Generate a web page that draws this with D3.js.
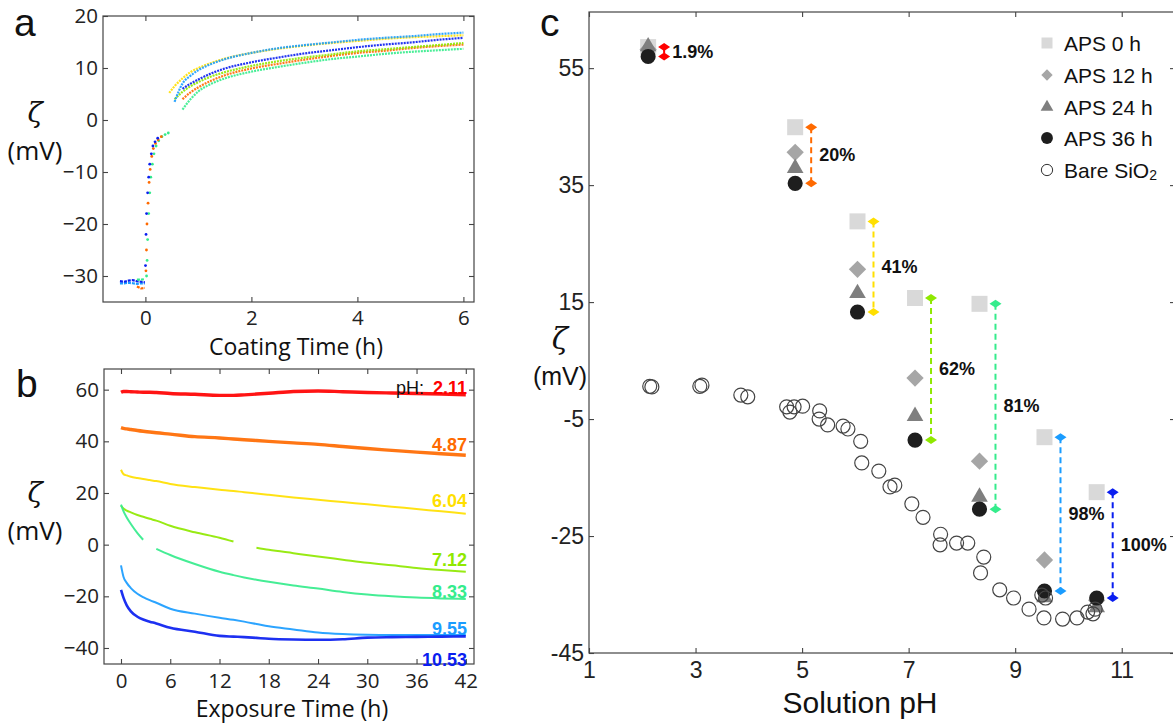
<!DOCTYPE html>
<html>
<head>
<meta charset="utf-8">
<script src="https://cdn.jsdelivr.net/npm/d3@7"></script>
<style>
  body { margin: 0; background: #fff; }
  svg { display: block; }
</style>
</head>
<body>
<svg id="fig" width="1173" height="726"></svg>
<script>

// ---- panel a : coating time (h) vs zeta (mV)
const coatTimes = [0.45, 0.55, 0.7, 0.85, 1, 1.25, 1.5, 2, 2.5, 3, 3.5, 4, 4.5, 5, 5.5, 6]
const coatYellow = [5.2, 6.5, 8.0, 9.2, 10.0, 11.0, 11.8, 12.9, 13.7, 14.3, 14.8, 15.2, 15.6, 15.9, 16.1, 16.3]
const coatCyan   = [null, 3.5, 7.0, 8.5, 9.6, 10.8, 11.7, 12.9, 13.8, 14.4, 14.9, 15.4, 15.8, 16.1, 16.5, 16.8]
const coatBlue   = [null, null, 6.0, 7.0, 7.8, 9.0, 9.9, 11.1, 12.0, 12.8, 13.4, 14.0, 14.5, 14.9, 15.4, 15.8]
const coatLime   = [null, 4.0, 5.4, 6.5, 7.3, 8.4, 9.2, 10.4, 11.3, 12.0, 12.6, 13.2, 13.6, 14.0, 14.4, 14.8]
const coatOrange = [null, null, 4.0, 5.3, 6.3, 7.6, 8.6, 9.9, 10.8, 11.6, 12.3, 12.9, 13.3, 13.8, 14.2, 14.5]
const coatGreen  = [null, null, 2.0, 4.0, 5.5, 7.0, 8.0, 9.3, 10.2, 11.0, 11.7, 12.2, 12.7, 13.1, 13.4, 13.7]

const preTimes  = [-0.48, -0.4, -0.32, -0.24, -0.16, -0.08, -0.01]
const preBlue   = [-31.0, -31.1, -30.9, -30.8, -31.0, -31.1, -31.2]
const preCyan   = [-31.4, -31.4, -31.3, -31.4, -31.5, -31.4, -31.4]
const preGreen  = [null, null, null, null, -30.7, -30.7, -30.6]
const preOrange = [null, null, null, null, -32.0, -32.4, -32.3]

const jumpTimes  = [0.01, 0.02, 0.03, 0.05, 0.07, 0.09, 0.12, 0.15, 0.19, 0.24, 0.3, 0.36, 0.42]
const jumpBlue   = [-28, -22, -18, -14, -11, -8.5, -6.5, -5, -4.2, -3.5, null, null, null]
const jumpOrange = [-29, -25, -20, -16, -12, -9.5, -7, -5.5, -4.5, -3.8, -3.2, null, null]
const jumpGreen  = [-30, -27, -23, -18, -14, -11, -8.5, -6.5, -5, -4, -3.2, -2.8, -2.5]

// ---- panel b : exposure time (h) vs zeta (mV)
const expTimes = [0, 0.3, 0.7, 1.2, 2, 2.7, 3.5, 4.3, 6, 9, 12, 13.7, 15, 16.5, 18, 21, 24, 27, 30, 33, 36, 39, 42]
const exp211  = [59, 59.3, 59.3, 59.2, 59.1, 59, 59, 58.9, 58.5, 58.2, 57.8, 57.8, 58, 58.3, 58.6, 59.3, 59.5, 59.2, 58.9, 58.7, 58.5, 58.3, 58]
const exp487  = [45.3, 45, 44.8, 44.6, 44.2, 43.9, 43.6, 43.3, 42.8, 41.8, 41.3, 40.9, 40.6, 40.3, 40, 39.4, 38.8, 38, 37.2, 36.5, 35.8, 35.2, 34.6]
const exp604  = [29, 27.3, 26.8, 26.3, 25.8, 25.4, 25, 24.6, 23.5, 22.3, 21.3, 20.8, 20.3, 19.8, 19.3, 18.3, 17.4, 16.5, 15.6, 14.7, 13.8, 12.9, 12]
const exp712  = [15, 14, 13.2, 12.5, 11.5, 10.8, 10, 9.3, 7.3, 4.8, 2.7, 1.2, null, -1.2, -2, -3.3, -4.6, -5.8, -7, -8, -9, -9.8, -10.5]
const exp833  = [15.5, 13, 10.5, 8, 4.5, 1.9, null, -1.6, -4, -7.5, -10.5, -11.8, -12.7, -13.6, -14.4, -15.8, -17, -18.3, -19.3, -20, -20.5, -20.8, -21]
const exp955  = [-8, -12.4, -14.8, -16.8, -19, -20.3, -21.5, -22.5, -24.8, -26.7, -28.3, -29.1, -29.8, -30.7, -31.6, -32.8, -34, -34.6, -34.9, -35, -35, -35, -35]
const exp1053 = [-17.5, -20.5, -23.5, -25.8, -27.9, -29, -29.8, -30.5, -32.2, -33.7, -35.3, -35.6, -35.8, -36.1, -36.4, -36.7, -36.8, -36.6, -36, -35.8, -35.7, -35.6, -35.5]

const phLabels = ["2.11", "4.87", "6.04", "7.12", "8.33", "9.55", "10.53"]
const phColors = ["#ff0000", "#ff6a00", "#ffdf00", "#8fe800", "#35ec8c", "#1a9cff", "#0a1ef0"]

// ---- panel c : zeta vs solution pH
const apsPh  = [2.11, 4.87, 6.04, 7.12, 8.33, 9.55, 10.53]
const aps0h  = [58.6, 44.9, 28.8, 15.7, 14.7, -8.1, -17.5]
const aps12h = [58.2, 40.6, 20.6, 2.0, -12.2, -29.1, -36.0]
const aps24h = [58.7, 37.9, 16.5, -4.5, -18.3, -35.5, -37.2]
const aps36h = [57.0, 35.3, 13.3, -8.6, -20.4, -34.4, -35.6]
const apsDrop = ["1.9%", "20%", "41%", "62%", "81%", "98%", "100%"]

const barePh   = [2.14, 2.18, 3.08, 3.12, 3.85, 3.98, 4.71, 4.77, 4.85, 5.01, 5.33, 5.32, 5.48, 5.77, 5.86, 6.10, 6.12, 6.44, 6.65, 6.74, 7.06, 7.27, 7.60, 7.59, 7.90, 8.11, 8.41, 8.35, 8.71, 8.97, 9.26, 9.50, 9.54, 9.57, 9.89, 10.16, 10.36, 10.46, 10.50]
const bareZeta = [0.6, 0.5, 0.6, 0.8, -0.9, -1.2, -2.9, -3.8, -2.9, -2.8, -3.6, -5.0, -6.0, -6.2, -6.7, -8.8, -12.5, -13.9, -16.6, -16.3, -19.5, -21.8, -24.7, -26.5, -26.2, -26.2, -28.6, -31.3, -34.2, -35.6, -37.5, -35.1, -39.0, -35.6, -39.2, -39.0, -38.0, -38.3, -37.5]

const legendNames = ["APS 0 h", "APS 12 h", "APS 24 h", "APS 36 h", "Bare SiO"]


const svg = d3.select("#fig")
const sans = "'Open Sans', sans-serif"
const helv = "'Liberation Sans', Arial, sans-serif"

// box with inward ticks on all four sides
function drawBox(x, y, xTicks, yTicks, opt) {
    const [x0, x1] = x.range(), [y0, y1] = y.range()
    const g = svg.append("g")
    const style = sel => {
        sel.select(".domain").remove()
        sel.selectAll(".tick line").attr("stroke", "#444").attr("stroke-width", 1.1)
        sel.selectAll(".tick text").attr("fill", "#222")
            .style("font-family", opt.font).style("font-size", opt.size + "px")
    }
    g.append("g").attr("transform", `translate(0,${y0})`)
        .call(d3.axisBottom(x).tickValues(xTicks).tickSize(-5).tickPadding(opt.xpad).tickFormat(opt.fmt))
        .call(style)
    g.append("g").attr("transform", `translate(0,${y1})`)
        .call(d3.axisTop(x).tickValues(xTicks).tickSize(-5).tickFormat(""))
        .call(style)
    g.append("g").attr("transform", `translate(${x0},0)`)
        .call(d3.axisLeft(y).tickValues(yTicks).tickSize(-5).tickPadding(opt.ypad).tickFormat(opt.fmt))
        .call(style)
    g.append("g").attr("transform", `translate(${x1},0)`)
        .call(d3.axisRight(y).tickValues(yTicks).tickSize(-5).tickFormat(""))
        .call(style)
    g.append("rect")
        .attr("x", x0).attr("y", y1).attr("width", x1 - x0).attr("height", y0 - y1)
        .attr("fill", "none").attr("stroke", "#444").attr("stroke-width", 1.2)
}

function zetaLabel(cx, cy, fontMv, sizeZ, sizeMv) {
    svg.append("text").attr("x", cx).attr("y", cy).attr("text-anchor", "middle")
        .style("font-family", "'DejaVu Serif', serif").style("font-style", "italic")
        .style("font-size", sizeZ + "px").attr("fill", "#111").text("ζ")
    svg.append("text").attr("x", cx).attr("y", cy + sizeMv * 1.45).attr("text-anchor", "middle")
        .style("font-family", fontMv).style("font-size", sizeMv + "px").attr("fill", "#111").text("(mV)")
}

function panelLetter(x, y, s) {
    svg.append("text").attr("x", x).attr("y", y)
        .style("font-family", helv).style("font-size", "39px").attr("fill", "#111").text(s)
}

const minusFmt = d3.format("")

// ================= panel a
const xa = d3.scaleLinear().domain([-0.8, 6.2]).range([103, 474])
const ya = d3.scaleLinear().domain([-35, 20]).range([302, 16])

const coatSeries = [
    { v: coatGreen, c: phColors[4] }, { v: coatOrange, c: phColors[1] },
    { v: coatLime, c: phColors[3] }, { v: coatYellow, c: phColors[2] },
    { v: coatBlue, c: phColors[6] }, { v: coatCyan, c: phColors[5] }
]
const lineA = d3.line()
    .defined(d => d[1] != null)
    .x(d => xa(d[0])).y(d => ya(d[1]))
    .curve(d3.curveMonotoneX)

coatSeries.forEach(s => {
    svg.append("path")
        .attr("d", lineA(coatTimes.map((t, i) => [t, s.v[i]])))
        .attr("fill", "none").attr("stroke", s.c).attr("stroke-width", 2.2)
        .attr("stroke-dasharray", "2 1").attr("opacity", 0.9)
})

const preSeries = [
    { v: preCyan, c: phColors[5] }, { v: preBlue, c: phColors[6] },
    { v: preGreen, c: phColors[4] }, { v: preOrange, c: phColors[1] }
]
preSeries.forEach(s => {
    svg.append("path")
        .attr("d", lineA.curve(d3.curveLinear)(preTimes.map((t, i) => [t, s.v[i]])))
        .attr("fill", "none").attr("stroke", s.c).attr("stroke-width", 2.2)
        .attr("stroke-dasharray", "3 1")
})

const jumpSeries = [
    { v: jumpGreen, c: phColors[4], dx: 0.012 }, { v: jumpOrange, c: phColors[1], dx: 0 },
    { v: jumpBlue, c: phColors[6], dx: -0.008 }
]
jumpSeries.forEach(s => {
    svg.append("g").selectAll("circle")
        .data(jumpTimes.map((t, i) => [t + s.dx, s.v[i]]).filter(d => d[1] != null))
        .join("circle")
        .attr("cx", d => xa(d[0])).attr("cy", d => ya(d[1]))
        .attr("r", 1.4).attr("fill", s.c)
})

drawBox(xa, ya, [0, 2, 4, 6], [-30, -20, -10, 0, 10, 20],
    { font: sans, size: 20.5, xpad: 8, ypad: 5, fmt: minusFmt })

svg.append("text").attr("x", 296).attr("y", 355).attr("text-anchor", "middle")
    .style("font-family", sans).style("font-size", "23px").attr("fill", "#111")
    .text("Coating Time (h)")
zetaLabel(35, 122, sans, 28, 26)
panelLetter(14, 36, "a")

// ================= panel b
const xb = d3.scaleLinear().domain([-2.07, 43]).range([104, 474])
const yb = d3.scaleLinear().domain([-46.2, 68]).range([664, 369])

const expSeries = [exp211, exp487, exp604, exp712, exp833, exp955, exp1053]
const lineB = d3.line()
    .defined(d => d[1] != null)
    .x(d => xb(d[0])).y(d => yb(d[1]))
    .curve(d3.curveMonotoneX)

expSeries.forEach((vals, i) => {
    svg.append("path")
        .attr("d", lineB(expTimes.map((t, j) => [t, vals[j]])))
        .attr("fill", "none").attr("stroke", phColors[i])
        .attr("stroke-width", i < 2 ? 3.4 : (i == 6 ? 2.6 : 2))
        .attr("opacity", 0.92)
})

drawBox(xb, yb, d3.range(0, 43, 6), [-40, -20, 0, 20, 40, 60],
    { font: sans, size: 20.5, xpad: 9, ypad: 5, fmt: minusFmt })

const labelY = [60.5, 38.5, 17, -6, -18.5, -32.8, -44.5]
phLabels.forEach((s, i) => {
    svg.append("text").attr("x", 467).attr("y", yb(labelY[i]))
        .attr("text-anchor", "end").attr("dominant-baseline", "central")
        .style("font-family", helv).style("font-size", "18px").style("font-weight", "bold")
        .attr("fill", phColors[i]).text(s)
})
svg.append("text").attr("x", 424).attr("y", yb(labelY[0]))
    .attr("text-anchor", "end").attr("dominant-baseline", "central")
    .style("font-family", helv).style("font-size", "18px")
    .attr("fill", "#111").text("pH:")

svg.append("text").attr("x", 292).attr("y", 717).attr("text-anchor", "middle")
    .style("font-family", sans).style("font-size", "23px").attr("fill", "#111")
    .text("Exposure Time (h)")
zetaLabel(35, 502, sans, 28, 26)
panelLetter(16, 397, "b")

// ================= panel c
const xc = d3.scaleLinear().domain([1, 12]).range([589, 1175])
const yc = d3.scaleLinear().domain([-45, 64.6]).range([653, 12])

const symSquare = d3.symbol().type(d3.symbolSquare)
const symTri = d3.symbol().type(d3.symbolTriangle)
const symCircle = d3.symbol().type(d3.symbolCircle)

// error bars (drop from 0 h to 36 h)
const barDx = 16
apsPh.forEach((p, i) => {
    const bx = xc(p) + barDx, ya0 = yc(aps0h[i]), ya1 = yc(aps36h[i])
    svg.append("line").attr("x1", bx).attr("x2", bx).attr("y1", ya0).attr("y2", ya1)
        .attr("stroke", phColors[i]).attr("stroke-width", 2).attr("stroke-dasharray", "6 4")
    ;[ya0, ya1].forEach(yy => {
        svg.append("path")
            .attr("d", `M${bx - 6},${yy}L${bx},${yy - 4}L${bx + 6},${yy}L${bx},${yy + 4}Z`)
            .attr("fill", phColors[i])
    })
    svg.append("text").attr("x", bx + 8).attr("y", (ya0 + ya1) / 2)
        .attr("dominant-baseline", "central")
        .style("font-family", helv).style("font-size", "18px").style("font-weight", "bold")
        .attr("fill", "#111").text(apsDrop[i])
})

function markers(vals, sym, size, fill, rot) {
    svg.append("g").selectAll("path")
        .data(apsPh.map((p, i) => [p, vals[i]]))
        .join("path")
        .attr("d", sym.size(size)())
        .attr("transform", d => `translate(${xc(d[0])},${yc(d[1])}) rotate(${rot})`)
        .attr("fill", fill)
}
markers(aps0h, symSquare, 256, "#d9d9d9", 0)
markers(aps12h, symSquare, 150, "#a6a6a6", 45)
markers(aps24h, symTri, 120, "#7f7f7f", 0)
markers(aps36h, symCircle, 180, "#1e1e1e", 0)

svg.append("g").selectAll("circle")
    .data(barePh.map((p, i) => [p, bareZeta[i]]))
    .join("circle")
    .attr("cx", d => xc(d[0])).attr("cy", d => yc(d[1]))
    .attr("r", 7).attr("fill", "none").attr("stroke", "#444").attr("stroke-width", 1.2)

drawBox(xc, yc, [1, 3, 5, 7, 9, 11], [-45, -25, -5, 15, 35, 55],
    { font: helv, size: 23, xpad: 9, ypad: 5, fmt: d => String(d) })

// legend
const legendY = [43, 75, 107, 138, 170]
const legendSym = [
    { sym: symSquare, size: 121, fill: "#d9d9d9", rot: 0 },
    { sym: symSquare, size: 64, fill: "#a6a6a6", rot: 45 },
    { sym: symTri, size: 70, fill: "#7f7f7f", rot: 0 },
    { sym: symCircle, size: 110, fill: "#1e1e1e", rot: 0 },
    { sym: symCircle, size: 100, fill: "none", rot: 0 }
]
legendNames.forEach((name, i) => {
    const s = legendSym[i]
    svg.append("path").attr("d", s.sym.size(s.size)())
        .attr("transform", `translate(1047,${legendY[i]}) rotate(${s.rot})`)
        .attr("fill", s.fill).attr("stroke", s.fill == "none" ? "#333" : null)
    const t = svg.append("text").attr("x", 1064).attr("y", legendY[i])
        .attr("dominant-baseline", "central")
        .style("font-family", helv).style("font-size", "21px").attr("fill", "#111").text(name)
    if (i == 4) t.append("tspan").attr("dy", 5).style("font-size", "14px").text("2")
})

svg.append("text").attr("x", 860).attr("y", 713).attr("text-anchor", "middle")
    .style("font-family", helv).style("font-size", "30px").attr("fill", "#111")
    .text("Solution pH")
zetaLabel(560, 349, helv, 30, 25)
panelLetter(540, 36, "c")

</script>
</body>
</html>
